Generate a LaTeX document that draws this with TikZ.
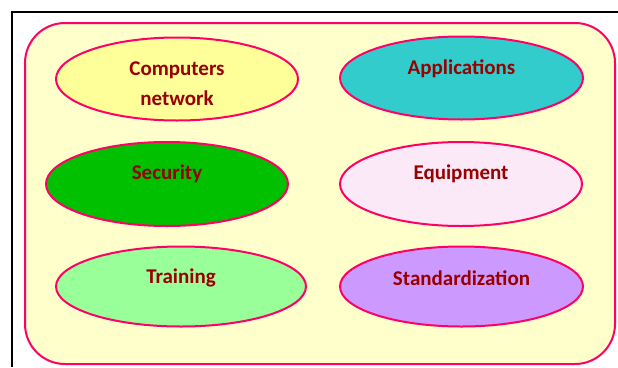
\documentclass[tikz,border=0pt]{standalone}
\usepackage{fontspec}
\setmainfont{Carlito}
\usetikzlibrary{shapes.geometric}
\definecolor{frameline}{HTML}{000000}
\definecolor{panelfill}{HTML}{FFFFCC}
\definecolor{rim}{HTML}{FF0066}
\definecolor{labeltext}{HTML}{990000}
\definecolor{fillA}{HTML}{FFFF99}
\definecolor{fillB}{HTML}{33CCCC}
\definecolor{fillC}{HTML}{00C000}
\definecolor{fillD}{HTML}{FCE9F8}
\definecolor{fillE}{HTML}{99FF99}
\definecolor{fillF}{HTML}{CC99FF}
\tikzset{
  topic/.style={ellipse, draw=rim, line width=2pt, inner sep=0pt},
  topiclabel/.style={text=labeltext, font=\fontsize{21}{30}\selectfont\bfseries, align=center, inner sep=0pt},
}
\begin{document}
\begin{tikzpicture}[x=1pt, y=-1pt]
  \useasboundingbox (0,0) rectangle (618,367);
  % outer frame edges
  \draw[frameline, line width=2pt] (12,367) -- (12,12) -- (618,12);
  % rounded panel
  \draw[rim, fill=panelfill, line width=2pt, rounded corners=40pt] (25,23) rectangle (615,364);
  % topic ellipses
  \node[topic, fill=fillA, minimum width=242pt, minimum height=83pt] (e1) at (177,79) {};
  \node[topic, fill=fillB, minimum width=243pt, minimum height=83pt] (e2) at (461.5,78) {};
  \node[topic, fill=fillC, minimum width=242pt, minimum height=84pt] (e3) at (167,184) {};
  \node[topic, fill=fillD, minimum width=242pt, minimum height=84pt] (e4) at (461,184) {};
  \node[topic, fill=fillE, minimum width=250pt, minimum height=80pt] (e5) at (181,286.5) {};
  \node[topic, fill=fillF, minimum width=243pt, minimum height=80pt] (e6) at (461.5,286.5) {};
  % labels
  \node[topiclabel] (t1) at (177,84) {Computers\\network};
  \node[topiclabel] (t2) at (461.5,69) {Applications};
  \node[topiclabel] (t3) at (167,174) {Security};
  \node[topiclabel] (t4) at (461,174) {Equipment};
  \node[topiclabel] (t5) at (181,278) {Training};
  \node[topiclabel] (t6) at (461.5,278) {Standardization};
\end{tikzpicture}
\end{document}
